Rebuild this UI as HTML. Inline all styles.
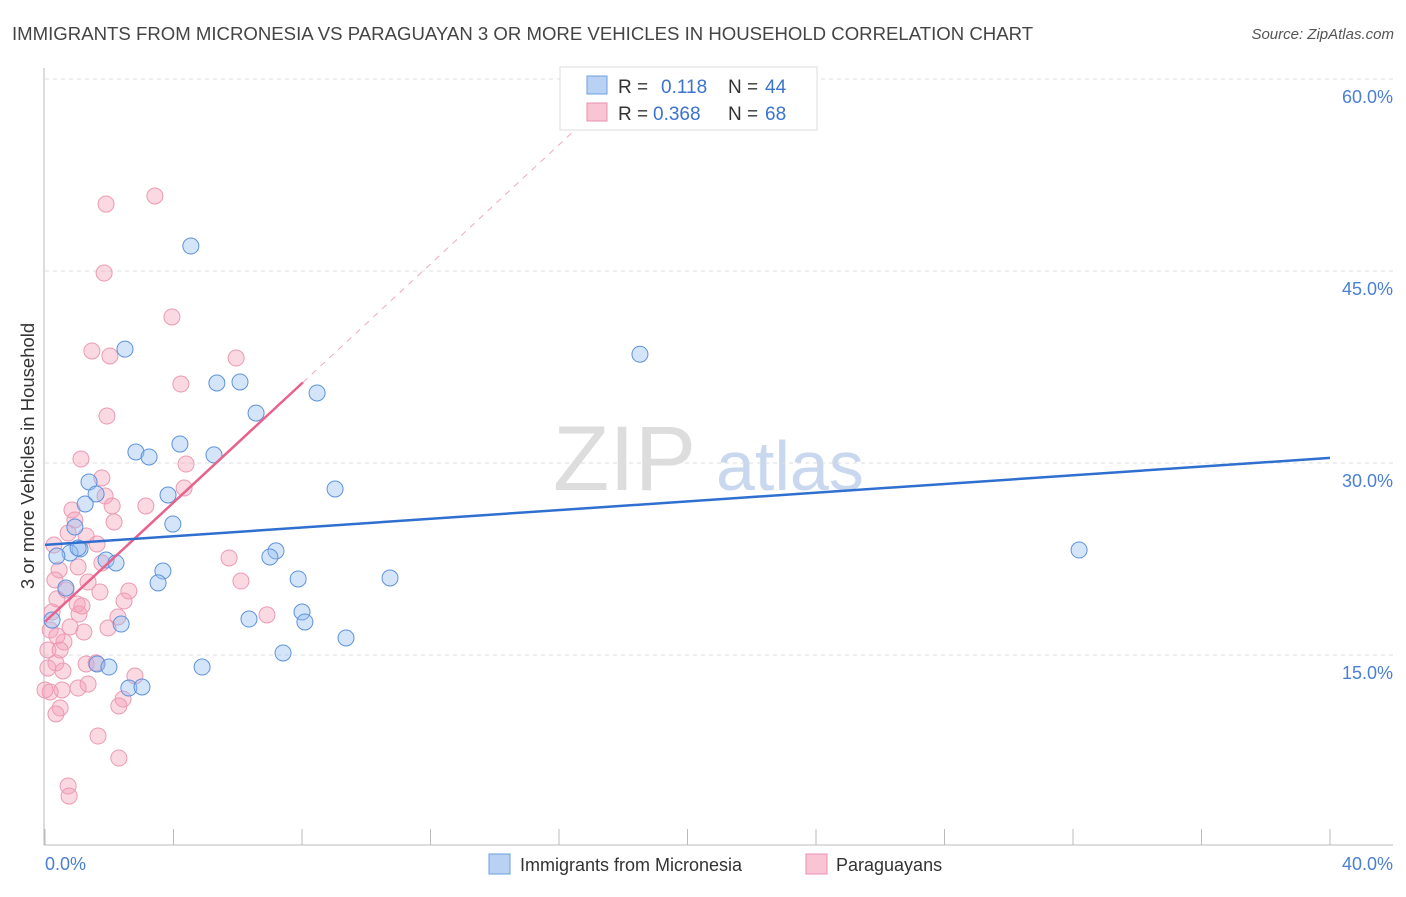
<!DOCTYPE html>
<html><head><meta charset="utf-8"><style>
body{margin:0;background:#fff;font-family:"Liberation Sans",sans-serif}
svg text{font-family:"Liberation Sans",sans-serif}
</style></head><body>
<svg id="chart" width="1406" height="892" xmlns="http://www.w3.org/2000/svg">
<text x="12" y="40" font-size="18.6" fill="#444">IMMIGRANTS FROM MICRONESIA VS PARAGUAYAN 3 OR MORE VEHICLES IN HOUSEHOLD CORRELATION CHART</text>
<text x="1394" y="39" font-size="15" fill="#555" text-anchor="end" font-style="italic">Source: ZipAtlas.com</text>
<text x="553" y="490" font-size="92" fill="#ddd" font-family="Liberation Serif">ZIP</text>
<text x="716" y="490" font-size="70" fill="#c9d8ef">atlas</text>
<g id="grid"></g>
<line x1="44" y1="68" x2="44" y2="845" stroke="#bbb"/>
<line x1="44" y1="845" x2="1393" y2="845" stroke="#bbb"/>
<text transform="translate(34,456) rotate(-90)" font-size="18.5" fill="#333" text-anchor="middle">3 or more Vehicles in Household</text>
<text x="45" y="870" font-size="18" fill="#4a7fd4">0.0%</text>
<text x="1393" y="870" font-size="18" fill="#4a7fd4" text-anchor="end">40.0%</text>
<g id="pts"></g>
<g id="trends"></g>
<g>
<rect x="560" y="67" width="257" height="63" fill="#fff" stroke="#ddd"/>
<rect x="587" y="76" width="20" height="18" fill="#b9d2f4" stroke="#6d9ee0"/>
<rect x="587" y="103" width="20" height="18" fill="#f9c5d5" stroke="#ec8fab"/>
<text x="618" y="93" font-size="19" fill="#333">R =</text><text x="661" y="93" font-size="19" fill="#3a73d0">0.118</text>
<text x="728" y="93" font-size="19" fill="#333">N =</text><text x="765" y="93" font-size="19" fill="#3a73d0">44</text>
<text x="618" y="120" font-size="19" fill="#333">R =</text><text x="653" y="120" font-size="19" fill="#3a73d0">0.368</text>
<text x="728" y="120" font-size="19" fill="#333">N =</text><text x="765" y="120" font-size="19" fill="#3a73d0">68</text>
</g>
<g><rect x="489" y="854" width="21" height="20" fill="#b9d2f4" stroke="#6d9ee0"/><text x="520" y="871" font-size="18" fill="#333">Immigrants from Micronesia</text></g>
<g><rect x="806" y="854" width="21" height="20" fill="#f9c5d5" stroke="#ec8fab"/><text x="836" y="871" font-size="18" fill="#333">Paraguayans</text></g>
</svg>
<script>
const yTicks=[15,30,45,60];
const blueX=[4.54,2.49,18.52,5.35,6.07,6.57,8.47,2.83,3.24,4.2,5.26,1.37,1.59,1.25,3.83,9.03,3.98,0.93,1.09,0.78,0.37,1.9,2.21,7.19,7.0,3.67,3.52,0.65,10.74,7.88,32.19,8.0,8.09,6.35,2.37,9.37,7.41,0.22,1.62,1.99,4.89,2.61,3.02,1.03];
const blueY=[46.95,38.9,38.5,36.25,36.33,33.9,35.47,30.86,30.47,31.48,30.63,28.52,27.58,26.8,27.5,27.97,25.23,25.0,23.28,22.97,22.73,22.42,22.19,23.13,22.66,21.56,20.63,20.23,21.02,20.94,23.2,18.36,17.58,17.81,17.42,16.33,15.16,17.73,14.3,14.06,14.06,12.42,12.5,23.36];
const pinkX=[3.42,1.9,1.84,3.95,1.46,2.02,5.95,4.23,1.93,1.12,4.39,1.77,4.33,1.87,3.14,0.84,2.15,0.93,0.72,1.28,1.62,5.73,6.1,1.77,1.03,0.44,0.65,0.37,2.61,2.46,1.0,1.06,6.91,2.27,1.96,1.21,0.22,0.16,0.37,0.59,0.09,0.34,1.28,1.59,0.56,2.8,1.03,1.34,0.53,0.16,2.43,2.3,0.47,0.34,1.65,2.3,0.72,0.75,1.15,1.71,2.09,1.34,0.31,0.47,0.09,0.0,0.78,0.28];
const pinkY=[50.86,50.23,44.84,41.41,38.75,38.36,38.2,36.17,33.67,30.31,29.92,28.83,28.05,27.42,26.64,26.33,25.39,25.55,24.53,24.3,23.67,22.58,20.78,22.19,21.88,21.64,20.08,19.38,20.0,19.22,18.98,18.2,18.13,17.97,17.11,16.8,18.36,16.95,16.48,16.02,15.39,14.38,14.3,14.38,13.75,13.36,12.42,12.73,12.27,12.11,11.56,11.02,10.86,10.39,8.67,6.95,4.77,3.98,18.83,19.92,26.64,20.7,20.86,15.39,13.98,12.27,17.19,23.59];
const blueTrend=[0,23.6,40,30.4];
const pinkTrend=[0,17.6,8.03,36.3];
const X=v=>45+v*32.125, Y=v=>847-v*12.8;
const NS='http://www.w3.org/2000/svg';
function mk(t,a,p){const e=document.createElementNS(NS,t);for(const k in a)e.setAttribute(k,a[k]);p.appendChild(e);return e;}
const grid=document.getElementById('grid');
yTicks.forEach(t=>{
 const l=mk('line',{x1:45,x2:1393,y1:Y(t),y2:Y(t),stroke:'#ddd','stroke-dasharray':'4,4'},grid);
 
 
 const tx=mk('text',{x:1393,y:Y(t)+24,'font-size':18,fill:'#4a7fd4','text-anchor':'end'},grid);
 tx.textContent=t.toFixed(1)+'%';
 
 
});
for(let i=0;i<=10;i++){
 const l=mk('line',{x1:X(i*4),x2:X(i*4),y1:829,y2:845,stroke:'#bbb'},grid);
 
 
}
const pts=document.getElementById('pts');
pinkX.forEach((x,i)=>{const c=mk('circle',{cx:X(x),cy:Y(pinkY[i]),r:8,fill:'rgba(244,160,185,0.4)',stroke:'#eb9ab2','stroke-width':1},pts);
 
 });
blueX.forEach((x,i)=>{const c=mk('circle',{cx:X(x),cy:Y(blueY[i]),r:8,fill:'rgba(150,190,240,0.4)',stroke:'#5d92dc','stroke-width':1},pts);
 
 });
const tr=document.getElementById('trends');
const slope=(pinkTrend[3]-pinkTrend[1])/(pinkTrend[2]-pinkTrend[0]);
const xEnd=pinkTrend[2]+(60-pinkTrend[3])/slope;
const d=mk('line',{x1:X(pinkTrend[2]),y1:Y(pinkTrend[3]),x2:X(xEnd),y2:Y(60),stroke:'#f0a8be','stroke-dasharray':'6,6','stroke-width':1},tr);


const pl=mk('line',{x1:X(pinkTrend[0]),y1:Y(pinkTrend[1]),x2:X(pinkTrend[2]),y2:Y(pinkTrend[3]),stroke:'#e8628b','stroke-width':2.5},tr);


const bl=mk('line',{x1:X(blueTrend[0]),y1:Y(blueTrend[1]),x2:X(blueTrend[2]),y2:Y(blueTrend[3]),stroke:'#2f6fd0','stroke-width':2.5},tr);


</script>
</body></html>
